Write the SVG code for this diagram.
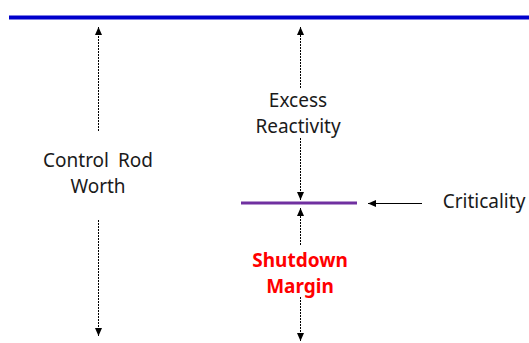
<svg xmlns="http://www.w3.org/2000/svg" width="529" height="343" viewBox="0 0 529 343">
<style>
.t{font-family:"Noto Sans","Liberation Sans",sans-serif;font-size:19px;fill:#1a1a1a;text-anchor:middle}
.r{font-weight:bold;fill:#ff0000}
.d{stroke:#000;stroke-width:1;stroke-dasharray:2,1;fill:none}
.s{stroke:#000;stroke-width:1;fill:none}
</style>
<defs>
<marker id="ah" markerUnits="userSpaceOnUse" markerWidth="9" markerHeight="8" refX="8" refY="3.5" orient="auto">
<path d="M0,0 L8,3.5 L0,7 z" fill="#000"/>
</marker>
</defs>
<g id="top-line"><rect x="9" y="15.5" width="520" height="4" fill="#0000cc"/></g>
<g id="criticality-line"><rect x="241" y="201.5" width="116" height="3" fill="#7030a0"/></g>
<g id="connectors">
<line class="d" x1="98.5" y1="131" x2="98.5" y2="27" marker-end="url(#ah)"/>
<line class="d" x1="98.5" y1="220" x2="98.5" y2="336" marker-end="url(#ah)"/>
<line class="d" x1="300.5" y1="88" x2="300.5" y2="27" marker-end="url(#ah)"/>
<line class="d" x1="300.5" y1="138" x2="300.5" y2="200" marker-end="url(#ah)"/>
<line class="d" x1="300.5" y1="245" x2="300.5" y2="208" marker-end="url(#ah)"/>
<line class="d" x1="300.5" y1="297" x2="300.5" y2="341" marker-end="url(#ah)"/>
<line class="s" x1="422" y1="203.5" x2="368" y2="203.5" marker-end="url(#ah)"/>
</g>
<g id="control-rod-worth"><text class="t" x="98" y="167" word-spacing="4">Control Rod</text><text class="t" x="98" y="193">Worth</text></g>
<g id="excess-reactivity"><text class="t" x="298" y="107">Excess</text><text class="t" x="298" y="133">Reactivity</text></g>
<g id="shutdown-margin"><text class="t r" x="300" y="267">Shutdown</text><text class="t r" x="300" y="293">Margin</text></g>
<g id="criticality"><text class="t" x="484" y="208">Criticality</text></g>
</svg>
